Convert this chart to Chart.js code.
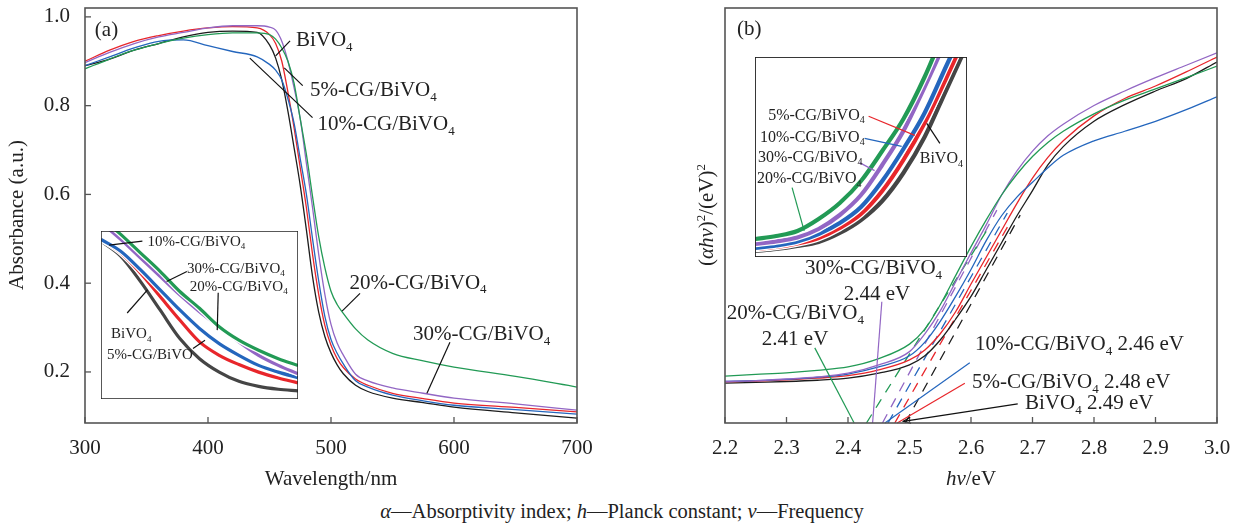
<!DOCTYPE html>
<html>
<head>
<meta charset="utf-8">
<script src="https://cdn.jsdelivr.net/npm/chart.js@4.4.0/dist/chart.umd.min.js"></script>
<style>
  body { margin: 0; background: #fff; }
  #fig { position: relative; width: 1244px; height: 528px; font-family: "Liberation Serif", serif; color: #222; }
  .box { position: absolute; }
  #caption { position: absolute; left: 0; top: 500px; width: 1244px; text-align: center; font-size: 20.5px; }
</style>
</head>
<body>
<div id="fig">
  <div class="box" style="left:0;top:0;width:622px;height:500px"><canvas id="chartA"></canvas></div>
  <div class="box" style="left:622px;top:0;width:622px;height:500px"><canvas id="chartB"></canvas></div>
  <div class="box" style="left:101px;top:231px;width:197px;height:168px;background:#fff"><canvas id="insetA"></canvas></div>
  <div class="box" style="left:755px;top:57px;width:212px;height:200px;background:#fff"><canvas id="insetB"></canvas></div>
  <div id="caption"><i>α</i>—Absorptivity index; <i>h</i>—Planck constant; <i>ν</i>—Frequency</div>
</div>
<script>
// (a) UV-vis absorbance, wavelength in nm
var wavelength = [300, 320, 340, 360, 380, 400, 420, 440, 450, 455, 460, 465, 470, 475, 480, 485, 490, 495, 500, 505, 510, 520, 530, 550, 575, 600, 650, 700];
var absBiVO4 = [0.89, 0.905, 0.925, 0.94, 0.955, 0.965, 0.968, 0.965, 0.937, 0.907, 0.858, 0.787, 0.705, 0.62, 0.52, 0.415, 0.335, 0.28, 0.243, 0.216, 0.196, 0.17, 0.156, 0.141, 0.131, 0.121, 0.108, 0.096];
var abs5 = [0.9, 0.925, 0.945, 0.958, 0.968, 0.975, 0.978, 0.975, 0.96, 0.94, 0.9, 0.83, 0.75, 0.66, 0.57, 0.465, 0.375, 0.305, 0.26, 0.23, 0.21, 0.184, 0.17, 0.152, 0.14, 0.13, 0.12, 0.11];
var abs10 = [0.89, 0.91, 0.93, 0.945, 0.948, 0.935, 0.922, 0.91, 0.893, 0.88, 0.858, 0.815, 0.76, 0.68, 0.6, 0.5, 0.405, 0.325, 0.273, 0.242, 0.218, 0.18, 0.166, 0.148, 0.135, 0.125, 0.115, 0.105];
var abs20 = [0.883, 0.905, 0.925, 0.94, 0.952, 0.96, 0.964, 0.964, 0.96, 0.95, 0.93, 0.9, 0.85, 0.77, 0.69, 0.595, 0.505, 0.435, 0.382, 0.352, 0.332, 0.297, 0.272, 0.242, 0.225, 0.211, 0.19, 0.166];
var abs30 = [0.897, 0.92, 0.94, 0.955, 0.965, 0.975, 0.98, 0.98, 0.977, 0.97, 0.945, 0.9, 0.84, 0.77, 0.67, 0.57, 0.465, 0.375, 0.307, 0.265, 0.238, 0.195, 0.18, 0.164, 0.152, 0.141, 0.128, 0.114];
var xTicksA = [300, 400, 500, 600, 700];
var yTicksA = [0.2, 0.4, 0.6, 0.8, 1.0];

// (b) Tauc plot, photon energy in eV
var photonEnergy = [2.2, 2.25, 2.3, 2.35, 2.4, 2.45, 2.5, 2.525, 2.55, 2.575, 2.6, 2.625, 2.65, 2.675, 2.7, 2.725, 2.75, 2.8, 2.85, 2.9, 2.95, 3.0];
var taucBiVO4 = [0.096, 0.098, 0.1, 0.103, 0.108, 0.12, 0.14, 0.162, 0.2, 0.25, 0.305, 0.37, 0.435, 0.5, 0.56, 0.622, 0.666, 0.727, 0.767, 0.8, 0.83, 0.87];
var tauc5 = [0.099, 0.101, 0.104, 0.108, 0.114, 0.128, 0.152, 0.176, 0.215, 0.268, 0.335, 0.4, 0.465, 0.53, 0.59, 0.64, 0.68, 0.74, 0.782, 0.812, 0.846, 0.882];
var tauc10 = [0.1, 0.102, 0.105, 0.11, 0.118, 0.135, 0.162, 0.195, 0.245, 0.305, 0.37, 0.44, 0.5, 0.545, 0.58, 0.615, 0.645, 0.68, 0.703, 0.727, 0.755, 0.786];
var tauc20 = [0.113, 0.117, 0.121, 0.127, 0.135, 0.155, 0.19, 0.226, 0.285, 0.355, 0.425, 0.49, 0.55, 0.6, 0.642, 0.676, 0.703, 0.745, 0.778, 0.805, 0.832, 0.86];
var tauc30 = [0.1, 0.102, 0.106, 0.111, 0.12, 0.14, 0.172, 0.215, 0.27, 0.34, 0.41, 0.478, 0.55, 0.608, 0.655, 0.692, 0.72, 0.765, 0.8, 0.832, 0.862, 0.892];
// tangent lines: [start eV, end eV], [start y, end y]
var tangentX = { b: [2.493, 2.68], p5: [2.476, 2.663], p10: [2.465, 2.659], p20: [2.43, 2.626], p30: [2.456, 2.642] };
var tangentY = { b: [0, 0.501], p5: [0, 0.482], p10: [0, 0.506], p20: [0, 0.465], p30: [0, 0.513] };
var xTicksB = [2.2, 2.3, 2.4, 2.5, 2.6, 2.7, 2.8, 2.9, 3.0];

// insets (unlabelled axes, relative units)
var insetX = [0, 10, 20, 30, 40, 50, 60, 70, 80, 90, 100];
var insA_BiVO4 = [94, 85, 70, 53, 36, 24, 16, 10.5, 7.5, 5.8, 4.8];
var insA_5 = [95, 87, 75, 61, 47, 34, 26, 20.5, 16, 12.5, 9.6];
var insA_10 = [95, 88, 77, 65, 53, 42, 33, 26, 20, 16, 12.7];
var insA_20 = [108, 98, 87, 76, 64, 54, 43, 35, 29, 24, 20];
var insA_30 = [105, 95, 84, 73, 62, 52, 43, 34, 26, 20, 15];
var insB_BiVO4 = [3, 4, 5.5, 7.5, 12, 18.5, 28, 42, 60, 83, 106];
var insB_5 = [4, 5, 6.8, 9.5, 14.5, 21.5, 33, 48.5, 67, 89, 112];
var insB_10 = [4.5, 5.8, 7.8, 11.5, 17, 25, 38, 54, 72, 95, 118];
var insB_20 = [9, 10.5, 13, 19, 27, 38, 53, 69, 90, 115, 140];
var insB_30 = [6.5, 7.8, 9.8, 14, 21, 31, 46, 63, 85, 108, 130];

var colB = '#1c1c1c', col5 = '#e8262b', col10 = '#2466bd', col20 = '#229a55', col30 = '#9266c4', colDark = '#454545';
var serif = '"Liberation Serif", "Times New Roman", serif';
Chart.defaults.font.family = serif;
Chart.defaults.color = '#222';

function xy(xs, ys) {
  return xs.map(function (x, i) { return { x: x, y: ys[i] }; });
}

function line(xs, ys, color, width, order) {
  return { data: xy(xs, ys), borderColor: color, borderWidth: width, pointRadius: 0, fill: false,
           cubicInterpolationMode: 'monotone', clip: 0, order: order || 0 };
}

function tangent(key, color) {
  var d = line(tangentX[key], tangentY[key], color, 1.3);
  d.borderDash = [10, 8];
  return d;
}

// thick inset lines with a white halo under each
function insetSets(list, width) {
  var sets = [];
  list.forEach(function (s, k) {
    sets.push(line(insetX, s[0], s[1], width, 2 * k));
    sets.push(line(insetX, s[0], '#fff', width + 2.5, 2 * k + 1));
  });
  return sets;
}

// text with *italic*, _subscript and ^superscript
function rich(ctx, str, x, y, size, align) {
  var parts = [], buf = '', it = false, i = 0;
  function push() { if (buf) parts.push({ t: buf, it: it, m: 'n' }); buf = ''; }
  while (i < str.length) {
    var c = str[i];
    if (c === '*') { push(); it = !it; i++; }
    else if (c === '_' || c === '^') { push(); parts.push({ t: str[i + 1], it: it, m: c }); i += 2; }
    else { buf += c; i++; }
  }
  push();
  var w = 0;
  parts.forEach(function (p) {
    p.f = (p.it ? 'italic ' : '') + (p.m === 'n' ? size : Math.round(size * 0.62)) + 'px ' + serif;
    ctx.font = p.f;
    p.w = ctx.measureText(p.t).width;
    w += p.w;
  });
  var cx = align === 'center' ? x - w / 2 : x;
  var base = y + size * 0.34;
  ctx.textAlign = 'left';
  ctx.textBaseline = 'alphabetic';
  parts.forEach(function (p) {
    ctx.font = p.f;
    var dy = p.m === '_' ? size * 0.22 : p.m === '^' ? -size * 0.4 : 0;
    ctx.fillText(p.t, cx, base + dy);
    cx += p.w;
  });
}

var decoConfig = {
  chartA: {
    frame: '#555', frameW: 1.6, ticksX: true, ticksY: true,
    labels: [
      { t: '(a)', x: 308, y: 0.973, s: 21 },
      { t: 'BiVO_4', x: 471.5, y: 0.95, s: 21 },
      { t: '5%-CG/BiVO_4', x: 483, y: 0.838, s: 21 },
      { t: '10%-CG/BiVO_4', x: 489, y: 0.761, s: 21 },
      { t: '20%-CG/BiVO_4', x: 515, y: 0.404, s: 21 },
      { t: '30%-CG/BiVO_4', x: 566.7, y: 0.287, s: 21 }
    ],
    leaders: [
      { x1: 466.7, y1: 0.946, x2: 455, y2: 0.912, c: '#111' },
      { x1: 477, y1: 0.845, x2: 462, y2: 0.885, c: '#111' },
      { x1: 485, y1: 0.773, x2: 434, y2: 0.907, c: '#111' },
      { x1: 523.6, y1: 0.377, x2: 509, y2: 0.337, c: '#111' },
      { x1: 596.7, y1: 0.267, x2: 578, y2: 0.152, c: '#111' }
    ],
    titles: [
      { t: 'Wavelength/nm', x: 331, y: 478, s: 21 },
      { t: 'Absorbance (a.u.)', x: 16, y: 215, s: 21, rot: true }
    ]
  },
  chartB: {
    frame: '#555', frameW: 1.6, ticksX: true, ticksY: false,
    labels: [
      { t: '(b)', x: 2.2195, y: 0.952, s: 21 },
      { t: '30%-CG/BiVO_4', x: 2.33, y: 0.376, s: 21 },
      { t: '2.44 eV', x: 2.447, y: 0.313, s: 21, a: 'center' },
      { t: '20%-CG/BiVO_4', x: 2.203, y: 0.267, s: 21 },
      { t: '2.41 eV', x: 2.314, y: 0.205, s: 21, a: 'center' },
      { t: '10%-CG/BiVO_4 2.46 eV', x: 2.6065, y: 0.193, s: 21 },
      { t: '5%-CG/BiVO_4 2.48 eV', x: 2.6016, y: 0.101, s: 21 },
      { t: 'BiVO_4 2.49 eV', x: 2.6878, y: 0.0506, s: 21 }
    ],
    leaders: [
      { x1: 2.346, y1: 0.181, x2: 2.41, y2: 0, c: col20 },
      { x1: 2.455, y1: 0.292, x2: 2.44, y2: 0, c: col30 },
      { x1: 2.598, y1: 0.145, x2: 2.46, y2: 0, c: col10 },
      { x1: 2.59, y1: 0.096, x2: 2.48, y2: 0, c: col5 },
      { x1: 2.676, y1: 0.046, x2: 2.49, y2: 0.004, c: '#111', arrow: true }
    ],
    titles: [
      { t: '*hν*/eV', x: 349, y: 478, s: 21 },
      { t: '(*αhν*)^2/(eV)^2', x: 84, y: 215, s: 21, rot: true }
    ]
  },
  insetA: {
    frame: '#222', frameW: 1.5,
    labels: [
      { t: '10%-CG/BiVO_4', x: 23.6, y: 94, s: 15 },
      { t: '30%-CG/BiVO_4', x: 43.6, y: 78.3, s: 15 },
      { t: '20%-CG/BiVO_4', x: 45.1, y: 67.5, s: 15 },
      { t: 'BiVO_4', x: 5.1, y: 39.2, s: 15 },
      { t: '5%-CG/BiVO', x: 3.1, y: 27.1, s: 15 }
    ],
    leaders: [
      { x1: 21, y1: 94, x2: 4.1, y2: 91.6, c: '#111' },
      { x1: 43.6, y1: 75.9, x2: 33.3, y2: 69.9, c: '#111' },
      { x1: 59.5, y1: 63.3, x2: 59, y2: 41, c: '#111' },
      { x1: 13.3, y1: 51.2, x2: 23.6, y2: 65, c: '#111' },
      { x1: 46.7, y1: 30.1, x2: 52.8, y2: 34.9, c: '#111' }
    ]
  },
  insetB: {
    frame: '#222', frameW: 1.8,
    labels: [
      { t: '5%-CG/BiVO_4', x: 6.2, y: 71.4, s: 16 },
      { t: '10%-CG/BiVO_4', x: 2.4, y: 60.3, s: 16 },
      { t: '30%-CG/BiVO_4', x: 1.4, y: 50.3, s: 16 },
      { t: '20%-CG/BiVO_4', x: 0.9, y: 39.7, s: 16 },
      { t: 'BiVO_4', x: 77.7, y: 49.7, s: 16 }
    ],
    leaders: [
      { x1: 53.6, y1: 70.4, x2: 75.4, y2: 60.8, c: col5 },
      { x1: 51.7, y1: 59.3, x2: 69.2, y2: 55.3, c: col10 },
      { x1: 49.3, y1: 47.2, x2: 56.4, y2: 43.2, c: col30 },
      { x1: 17.5, y1: 34.7, x2: 23.2, y2: 13.1, c: col20 },
      { x1: 87.2, y1: 56.8, x2: 81, y2: 66.8, c: '#111' }
    ]
  }
};

var deco = {
  id: 'deco',
  afterDatasetsDraw: function (chart) {
    var o = decoConfig[chart.canvas.id];
    var ctx = chart.ctx, a = chart.chartArea, sx = chart.scales.x, sy = chart.scales.y;
    ctx.save();
    ctx.strokeStyle = '#555';
    ctx.lineWidth = 1.3;
    if (o.ticksX) {
      sx.ticks.forEach(function (t) {
        var p = sx.getPixelForValue(t.value);
        ctx.beginPath(); ctx.moveTo(p, a.bottom); ctx.lineTo(p, a.bottom - 6); ctx.stroke();
      });
    }
    if (o.ticksY) {
      sy.ticks.forEach(function (t) {
        var p = sy.getPixelForValue(t.value);
        ctx.beginPath(); ctx.moveTo(a.left, p); ctx.lineTo(a.left + 6, p); ctx.stroke();
      });
    }
    (o.leaders || []).forEach(function (l) {
      var x1 = sx.getPixelForValue(l.x1), y1 = sy.getPixelForValue(l.y1);
      var x2 = sx.getPixelForValue(l.x2), y2 = sy.getPixelForValue(l.y2);
      ctx.strokeStyle = l.c; ctx.lineWidth = 1.2;
      ctx.beginPath(); ctx.moveTo(x1, y1); ctx.lineTo(x2, y2); ctx.stroke();
      if (l.arrow) {
        var ang = Math.atan2(y1 - y2, x1 - x2);
        ctx.beginPath();
        ctx.moveTo(x2 + 8 * Math.cos(ang + 0.4), y2 + 8 * Math.sin(ang + 0.4));
        ctx.lineTo(x2, y2);
        ctx.lineTo(x2 + 8 * Math.cos(ang - 0.4), y2 + 8 * Math.sin(ang - 0.4));
        ctx.stroke();
      }
    });
    ctx.fillStyle = '#222';
    (o.labels || []).forEach(function (l) {
      rich(ctx, l.t, sx.getPixelForValue(l.x), sy.getPixelForValue(l.y), l.s, l.a || 'left');
    });
    (o.titles || []).forEach(function (t) {
      if (t.rot) {
        ctx.save(); ctx.translate(t.x, t.y); ctx.rotate(-Math.PI / 2);
        rich(ctx, t.t, 0, 0, t.s, 'center');
        ctx.restore();
      } else {
        rich(ctx, t.t, t.x, t.y, t.s, 'center');
      }
    });
    ctx.strokeStyle = o.frame; ctx.lineWidth = o.frameW;
    ctx.strokeRect(a.left, a.top, a.right - a.left, a.bottom - a.top);
    ctx.restore();
  }
};

function mainOptions(xMin, xMax, xTicks, xFmt, yMin, yMax, yTicks, pad) {
  return {
    responsive: true, maintainAspectRatio: false, animation: false,
    layout: { padding: pad },
    plugins: { legend: { display: false }, tooltip: { enabled: false } },
    scales: {
      x: {
        type: 'linear', min: xMin, max: xMax,
        afterBuildTicks: function (s) { s.ticks = xTicks.map(function (v) { return { value: v }; }); },
        afterFit: function (s) { s.height = 77; s.paddingLeft = 0; s.paddingRight = 0; },
        grid: { display: false, drawTicks: false }, border: { display: false },
        ticks: { padding: 13, autoSkip: false, maxRotation: 0, font: { size: 21 }, color: '#222', callback: xFmt }
      },
      y: {
        display: yTicks !== null, min: yMin, max: yMax,
        afterBuildTicks: function (s) { if (yTicks) s.ticks = yTicks.map(function (v) { return { value: v }; }); },
        afterFit: function (s) {
          s.width = yTicks ? 85 : 0;
          s.paddingTop = 0; s.paddingBottom = 0;
        },
        grid: { display: false, drawTicks: false }, border: { display: false },
        ticks: { padding: 15, autoSkip: false, font: { size: 21 }, color: '#222',
                 callback: function (v) { return v.toFixed(1); } }
      }
    }
  };
}

new Chart('chartA', {
  type: 'line',
  data: {
    datasets: [
      line(wavelength, abs20, col20, 1.3),
      line(wavelength, abs30, col30, 1.3),
      line(wavelength, abs10, col10, 1.3),
      line(wavelength, abs5, col5, 1.3),
      line(wavelength, absBiVO4, colB, 1.3)
    ]
  },
  options: mainOptions(300, 700, xTicksA, function (v) { return v; }, 0.085, 1.02, yTicksA,
                       { left: 0, top: 8, right: 45, bottom: 0 }),
  plugins: [deco]
});

new Chart('chartB', {
  type: 'line',
  data: {
    datasets: [
      line(photonEnergy, tauc20, col20, 1.3),
      line(photonEnergy, tauc30, col30, 1.3),
      line(photonEnergy, tauc10, col10, 1.3),
      line(photonEnergy, tauc5, col5, 1.3),
      line(photonEnergy, taucBiVO4, colB, 1.3),
      tangent('p20', col20),
      tangent('p30', col30),
      tangent('p10', col10),
      tangent('p5', col5),
      tangent('b', colB)
    ]
  },
  options: mainOptions(2.2, 3.0, xTicksB, function (v) { return v.toFixed(1); }, 0, 1.0, null,
                       { left: 103, top: 8, right: 27, bottom: 0 }),
  plugins: [deco]
});

function insetOptions() {
  return {
    responsive: true, maintainAspectRatio: false, animation: false,
    layout: { padding: 0 },
    plugins: { legend: { display: false }, tooltip: { enabled: false } },
    scales: {
      x: { type: 'linear', display: false, min: 0, max: 100 },
      y: { display: false, min: 0, max: 100 }
    }
  };
}

new Chart('insetA', {
  type: 'line',
  data: { datasets: insetSets([[insA_20, col20], [insA_30, col30], [insA_10, col10], [insA_5, col5], [insA_BiVO4, colDark]], 3.2) },
  options: insetOptions(),
  plugins: [deco]
});

new Chart('insetB', {
  type: 'line',
  data: { datasets: insetSets([[insB_20, col20], [insB_30, col30], [insB_10, col10], [insB_5, col5], [insB_BiVO4, colDark]], 4.2) },
  options: insetOptions(),
  plugins: [deco]
});
</script>
</body>
</html>
